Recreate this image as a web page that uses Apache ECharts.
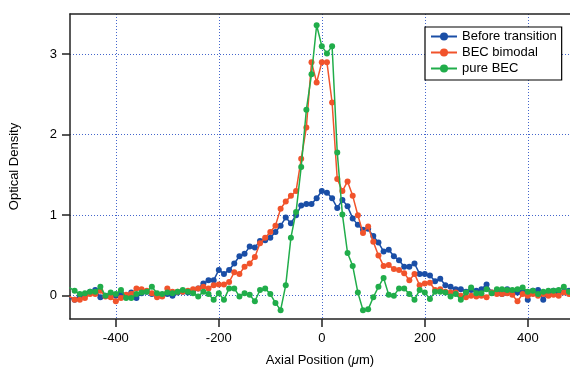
<!DOCTYPE html>
<html><head><meta charset="utf-8">
<script src="https://cdn.jsdelivr.net/npm/echarts@6/dist/echarts.min.js"></script>
<style>html,body{margin:0;padding:0;background:#fff}#c{width:570px;height:372px}</style>
</head><body><div id="c"></div>
<script>
const positions = [-490,-480,-470,-460,-450,-440,-430,-420,-410,-400,-390,-380,-370,-360,-350,-340,-330,-320,-310,-300,-290,-280,-270,-260,-250,-240,-230,-220,-210,-200,-190,-180,-170,-160,-150,-140,-130,-120,-110,-100,-90,-80,-70,-60,-50,-40,-30,-20,-10,0,10,20,30,40,50,60,70,80,90,100,110,120,130,140,150,160,170,180,190,200,210,220,230,240,250,260,270,280,290,300,310,320,330,340,350,360,370,380,390,400,410,420,430,440,450,460,470,480];

const beforeTransition = [-0.03,-0.05,-0.01,0.01,0.05,0.07,-0.02,0.00,0.02,0.00,0.03,-0.01,0.04,-0.03,0.03,0.05,0.02,0.01,0.00,0.02,0.00,0.04,0.05,0.04,0.06,0.09,0.15,0.19,0.19,0.32,0.27,0.32,0.40,0.49,0.52,0.61,0.60,0.68,0.69,0.72,0.79,0.87,0.97,0.90,1.00,1.12,1.14,1.14,1.21,1.30,1.28,1.21,1.09,1.19,1.11,0.96,0.88,0.82,0.83,0.74,0.66,0.55,0.57,0.49,0.44,0.36,0.36,0.40,0.27,0.27,0.25,0.18,0.21,0.13,0.11,0.08,0.08,0.05,0.07,0.06,0.08,0.14,0.04,0.05,0.02,0.08,0.05,0.04,0.05,-0.05,0.06,0.07,-0.05,0.05,0.06,0.04,0.05,0.06];

const becBimodal = [-0.01,-0.05,-0.05,-0.03,0.02,0.02,0.06,-0.01,-0.02,-0.07,-0.03,0.01,0.02,0.09,0.08,0.06,0.03,-0.02,-0.01,0.09,0.05,0.05,0.05,0.06,0.08,0.09,0.11,0.09,0.13,0.14,0.14,0.17,0.29,0.27,0.36,0.40,0.48,0.65,0.72,0.79,0.87,1.08,1.17,1.24,1.30,1.70,2.09,2.90,2.65,2.90,2.90,2.40,1.45,1.30,1.42,1.24,1.00,0.78,0.86,0.67,0.50,0.37,0.38,0.33,0.32,0.28,0.19,0.27,0.13,0.15,0.16,0.07,0.08,0.05,0.04,0.04,0.00,-0.02,0.00,-0.01,0.00,-0.02,0.04,0.02,0.02,0.03,0.01,-0.07,0.02,0.00,0.02,0.00,0.02,0.00,0.01,0.00,0.04,0.02];

const pureBEC = [0.10,0.06,0.02,0.03,0.05,0.05,0.11,0.00,0.04,0.02,0.07,-0.03,-0.03,0.02,0.04,0.05,0.11,0.03,0.02,0.04,0.03,0.05,0.07,0.05,0.03,-0.01,0.05,0.02,-0.05,0.03,-0.05,0.09,0.09,-0.01,0.03,0.01,-0.07,0.07,0.09,0.02,-0.09,-0.18,0.13,0.72,1.04,1.60,2.31,2.75,3.36,3.10,3.01,3.10,1.78,1.01,0.53,0.37,0.04,-0.18,-0.17,-0.02,0.11,0.22,0.01,0.00,0.09,0.09,0.02,-0.05,0.07,0.04,-0.04,0.05,0.05,0.04,-0.01,0.02,-0.05,0.04,0.10,0.03,0.03,0.08,0.03,0.08,0.08,0.07,0.07,0.08,0.10,0.05,0.06,0.02,0.05,0.06,0.06,0.07,0.11,0.05];

const seriesNames = ['Before transition', 'BEC bimodal', 'pure BEC'];
const xTicks = [-400, -200, 0, 200, 400];
const yTicks = [0, 1, 2, 3];

const colors = ['#1a4ea6', '#f1532b', '#20ad4a'];
const pair = arr => positions.map((x, i) => [x, arr[i]]);
const values = [beforeTransition, becBimodal, pureBEC];

const chart = echarts.init(document.getElementById('c'), null, {renderer: 'canvas'});
const gridStyle = {show: true, lineStyle: {color: '#4466cc', type: [1, 2], width: 1}};
chart.setOption({
  animation: false,
  backgroundColor: '#fff',
  textStyle: {fontFamily: 'Liberation Sans, Arial, sans-serif'},
  grid: {left: 69, right: 0, top: 14, bottom: 49},
  legend: {
    orient: 'vertical', left: 425, top: 27,
    data: seriesNames,
    itemWidth: 26, itemHeight: 10, itemGap: 3,
    padding: [3, 5, 5, 5],
    borderColor: '#000', borderWidth: 1.2, backgroundColor: '#fff',
    textStyle: {fontSize: 13, color: '#000'}
  },
  xAxis: [{
    type: 'value', min: -489, max: 482, position: 'bottom',
    name: 'Axial Position ({i|μ}m)', nameLocation: 'middle', nameGap: 35,
    nameTextStyle: {fontSize: 13, color: '#000', rich: {i: {fontStyle: 'italic', fontSize: 13, color: '#000'}}},
    axisLine: {show: true, onZero: false, lineStyle: {color: '#222', width: 1.5}},
    axisTick: {show: true, length: 8, customValues: xTicks, lineStyle: {color: '#222', width: 1.5}},
    axisLabel: {customValues: xTicks, fontSize: 13, color: '#000', margin: 13},
    splitLine: gridStyle
  }, {
    type: 'value', min: -489, max: 482, position: 'top',
    axisLine: {show: true, onZero: false, lineStyle: {color: '#222', width: 1.5}},
    axisTick: {show: false}, axisLabel: {show: false}, splitLine: {show: false}
  }],
  yAxis: {
    type: 'value', min: -0.29, max: 3.5,
    name: 'Optical Density', nameLocation: 'middle', nameGap: 49,
    nameTextStyle: {fontSize: 13, color: '#000'},
    axisLine: {show: true, onZero: false, lineStyle: {color: '#222', width: 1.5}},
    axisTick: {show: true, length: 8, customValues: yTicks, lineStyle: {color: '#222', width: 1.5}},
    axisLabel: {customValues: yTicks, fontSize: 13, color: '#000', margin: 13},
    splitLine: gridStyle
  },
  series: seriesNames.map((n, k) => ({
    name: n, type: 'line', data: pair(values[k]),
    symbol: 'circle', symbolSize: 6, showAllSymbol: true,
    lineStyle: {width: 1.5, color: colors[k]},
    itemStyle: {color: colors[k]},
    z: 2 + k
  }))
});
</script></body></html>
